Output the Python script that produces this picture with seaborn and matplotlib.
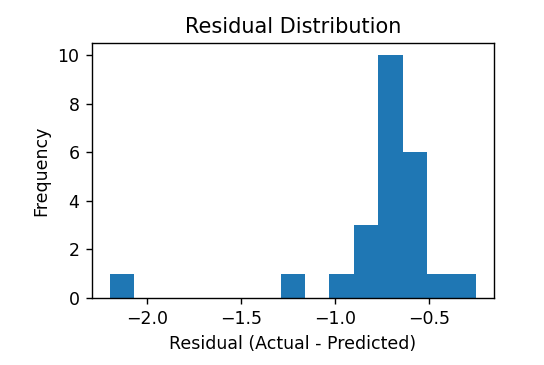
import matplotlib
matplotlib.use("Agg")
import matplotlib.pyplot as plt
from matplotlib.ticker import MultipleLocator
import seaborn as sns
import pandas as pd

residuals = [-2.195,
             -1.22,
             -0.95,
             -0.86, -0.82, -0.79,
             -0.76, -0.75, -0.74, -0.73, -0.72, -0.71, -0.70, -0.68, -0.66, -0.65,
             -0.63, -0.61, -0.59, -0.57, -0.55, -0.53,
             -0.45,
             -0.252]
title = "Residual Distribution"
xlabel = "Residual (Actual - Predicted)"
ylabel = "Frequency"

df = pd.DataFrame({"residual": residuals})

DPI = 125
fig = plt.figure(figsize=(544/DPI, 365/DPI), dpi=DPI)
ax = fig.add_axes([91.7/544, 1-298/365, (494-91.7)/544, (298-43)/365])
sns.histplot(data=df, x="residual", bins=15, color="#1f77b4", alpha=1.0,
             edgecolor="none", linewidth=0, ax=ax)
ax.xaxis.set_major_locator(MultipleLocator(0.5))
ax.set_title(title, fontsize=12)
ax.set_xlabel(xlabel)
ax.set_ylabel(ylabel)
fig.savefig("out.png", dpi=DPI)
